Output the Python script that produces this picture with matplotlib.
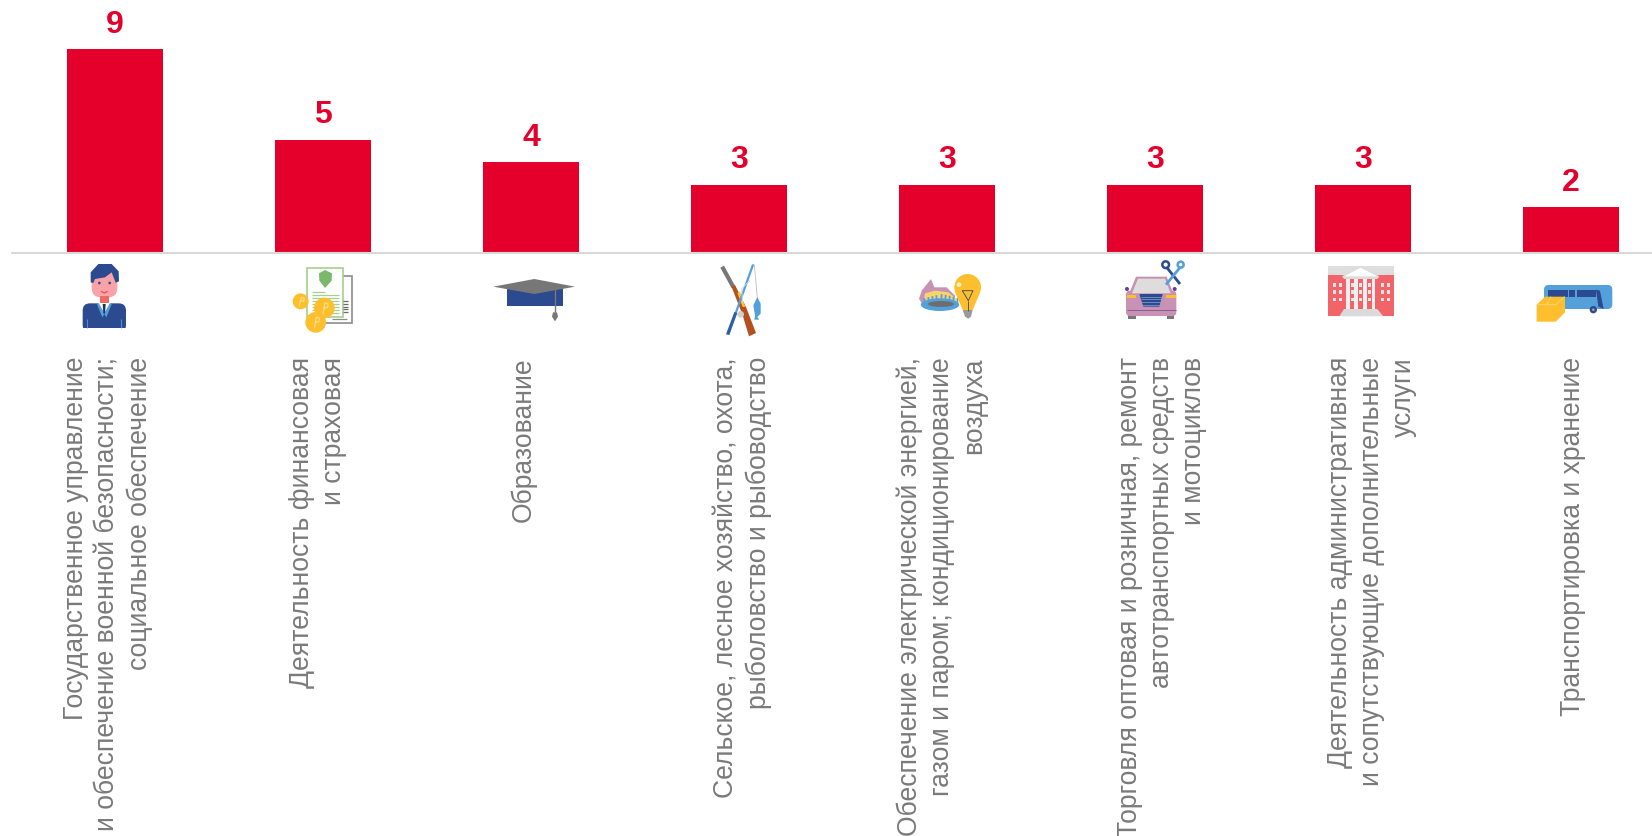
import matplotlib
matplotlib.use('Agg')
from matplotlib import pyplot as plt
from matplotlib.patches import Circle, Ellipse, Polygon, Rectangle, FancyBboxPatch

plt.rcParams['font.family'] = ['Liberation Sans', 'DejaVu Sans']

categories = [
    'Государственное управление\nи обеспечение военной безопасности;\nсоциальное обеспечение',
    'Деятельность финансовая\nи страховая',
    'Образование',
    'Сельское, лесное хозяйство, охота,\nрыболовство и рыбоводство',
    'Обеспечение электрической энергией,\nгазом и паром; кондиционирование\nвоздуха',
    'Торговля оптовая и розничная, ремонт\nавтотранспортных средств\nи мотоциклов',
    'Деятельность административная\nи сопутствующие дополнительные\nуслуги',
    'Транспортировка и хранение',
]
values = [9, 5, 4, 3, 3, 3, 3, 2]
# sideways shift of each label block against its bar, px
label_shift = [-7, -5, -7, 4, -5, 7, 9, 2]

RED = '#E4002B'
GREY = '#7A7A7A'
W, H = 1652, 837
BASE = 253.5

fig = plt.figure(figsize=(W / 100, H / 100), dpi=100)
ax = fig.add_axes([0, 1 - BASE / H, 1, BASE / H])
ax.set_xlim(-115 / 208, (W - 115) / 208)
ax.set_ylim(0, BASE / 22.6)
ax.axis('off')

xs = range(len(values))
ax.bar(xs, values, width=0.466, color=RED)

for i, v in zip(xs, values):
    ax.annotate(str(v), (i, v), xytext=(0, 17.5 * 0.72), textcoords='offset points',
                ha='center', va='baseline', color=RED, fontsize=23, fontweight='bold')

# overlay in pixels for axis line, labels and pictograms
ov = fig.add_axes([0, 0, 1, 1], facecolor='none')
ov.set_xlim(0, W)
ov.set_ylim(H, 0)
ov.axis('off')
ov.plot([11, W], [253.5, 253.5], color='#D9D9D9', lw=1.5, solid_capstyle='butt')

for i, (name, dx) in enumerate(zip(categories, label_shift)):
    ov.text(115 + 208 * i + dx, 357, name, rotation=90, ha='center', va='top',
            multialignment='right', fontsize=19.1, color=GREY, linespacing=1.29)


def poly(o, pts, c, z=3, **kw):
    ov.add_patch(Polygon([(o[0] + x / 3, o[1] + y / 3) for x, y in pts], closed=True,
                         fc=c, ec='none', zorder=z, **kw))


def rect(o, x0, y0, x1, y1, c, z=3, ec='none', lw=0):
    ov.add_patch(Rectangle((o[0] + x0 / 3, o[1] + y0 / 3), (x1 - x0) / 3, (y1 - y0) / 3,
                           fc=c, ec=ec, lw=lw, zorder=z))


def circ(o, x, y, r, c, z=3):
    ov.add_patch(Circle((o[0] + x / 3, o[1] + y / 3), r / 3, fc=c, ec='none', zorder=z))


def line(o, pts, c, lw=1.0, z=3):
    ov.plot([o[0] + p[0] / 3 for p in pts], [o[1] + p[1] / 3 for p in pts], color=c, lw=lw,
            zorder=z, solid_capstyle='butt')


def rbox(o, x0, y0, x1, y1, r, c, z=3):
    ov.add_patch(FancyBboxPatch((o[0] + (x0 + r) / 3, o[1] + (y0 + r) / 3),
                                (x1 - x0 - 2 * r) / 3, (y1 - y0 - 2 * r) / 3,
                                boxstyle='round,pad=%f' % (r / 3), fc=c, ec='none', zorder=z))


NAVY = '#2B4A8F'
SKY = '#54A0DA'
GOLD = '#FDBF2D'
PINK = '#C792B4'

# person
o = (70, 255)
rbox(o, 38, 148, 168, 235, 22, NAVY)
rect(o, 30, 221, 175, 240, 'white', 4)
rbox(o, 65, 40, 142, 130, 28, '#F9A3A8', 4)
rect(o, 90, 125, 118, 146, '#EE6A62', 4)
poly(o, [(62, 85), (62, 55), (85, 30), (125, 30), (146, 52), (147, 82), (137, 86), (125, 55),
         (105, 70), (75, 75), (70, 87)], NAVY, 5)
circ(o, 88, 87, 4, NAVY, 5)
circ(o, 119, 87, 4, NAVY, 5)
line(o, [(93, 112), (103, 117), (113, 112)], '#E4505A', 0.9, 5)
poly(o, [(84, 147), (122, 147), (103, 178)], 'white', 5)
poly(o, [(80, 148), (87, 148), (103, 180), (97, 190)], SKY, 5)
poly(o, [(126, 148), (119, 148), (103, 180), (109, 190)], SKY, 5)
poly(o, [(98, 150), (107, 150), (105, 178), (100, 178)], '#1D2F66', 6)
line(o, [(52, 195), (52, 221)], SKY, 0.6, 5)
line(o, [(153, 195), (153, 221)], SKY, 0.6, 5)

# policy and coins
o = (280, 255)
rect(o, 105, 65, 215, 208, 'white', 3, '#8C8C8C', 1.2)
rect(o, 81, 42, 190, 190, 'white', 4, '#A5CF8C', 1.2)
poly(o, [(117, 58), (135, 48), (156, 58), (155, 80), (135, 102), (118, 80)], '#7AB86B', 5)
for yy, xe in zip([113, 122, 131, 140, 149, 158, 167, 176], [135, 178, 178, 178, 178, 178, 178, 178]):
    line(o, [(95, yy), (xe, yy)], '#A5CF8C', 0.9, 5)
for yy in [142, 150, 158, 166, 174]:
    line(o, [(190, yy), (203, yy)], '#6A6A6A', 0.9, 4)
line(o, [(155, 195), (200, 195)], '#8C8C8C', 0.9, 4)
for cx, cy, r in [(62, 142, 24), (107, 205, 31), (133, 162, 31)]:
    circ(o, cx, cy, r, GOLD, 6)
    line(o, [(cx - 4, cy + r * 0.6), (cx + 2, cy - r * 0.5), (cx + 11, cy - r * 0.4),
             (cx + 10, cy - r * 0.05), (cx - 3, cy)], '#FFE08A', 0.8, 7)

# graduation cap
o = (485, 265)
rect(o, 65, 72, 233, 127, NAVY, 3)
poly(o, [(25, 68), (148, 45), (270, 68), (148, 90)], '#777777', 4)
line(o, [(210, 75), (210, 145)], '#777777', 1.0, 5)
poly(o, [(204, 145), (216, 145), (219, 158), (210, 172), (201, 158)], '#777777', 5)

# rifle and rod
o = (700, 258)
poly(o, [(61, 32), (72, 26), (106, 88), (95, 94)], '#777777', 3)
poly(o, [(95, 90), (105, 84), (138, 150), (168, 228), (147, 238), (128, 175)], '#B4501E', 3)
poly(o, [(112, 108), (120, 104), (136, 150), (128, 150)], GOLD, 3)
poly(o, [(156, 22), (163, 22), (110, 170), (103, 170)], SKY, 4)
poly(o, [(103, 165), (112, 168), (88, 234), (78, 232)], '#2B5FA8', 4)
line(o, [(163, 24), (172, 122)], '#C8C8C8', 0.7, 3)
poly(o, [(172, 120), (182, 140), (182, 170), (172, 180), (178, 188), (163, 188), (165, 176),
         (160, 145)], SKY, 4)
circ(o, 122, 172, 10, '#CFCFCF', 5)
line(o, [(150, 70), (125, 95), (128, 140)], '#C8DDF0', 0.6, 5)

# burner and bulb
o = (905, 265)
poly(o, [(42, 105), (50, 80), (78, 45), (88, 70), (125, 70), (150, 95), (150, 125), (60, 130)], PINK, 3)
poly(o, [(55, 120), (60, 88), (90, 80), (130, 85), (155, 105), (150, 125)], '#F8D46A', 4)
ov.add_patch(Ellipse((o[0] + 105 / 3, o[1] + 122 / 3), 115 / 3, 38 / 3, fc=SKY, ec='none', zorder=4))
for xx in range(60, 165, 12):
    line(o, [(xx, 128), (xx + 2 if xx > 105 else xx - 2, 90 + abs(xx - 110) * 0.25)], SKY, 1.3, 4)
ov.add_patch(Ellipse((o[0] + 108 / 3, o[1] + 120 / 3), 78 / 3, 18 / 3, fc='#6E6E6E', ec='none', zorder=5))
circ(o, 188, 70, 40, GOLD, 5)
poly(o, [(152, 88), (224, 88), (203, 138), (173, 138)], GOLD, 5)
line(o, [(172, 80), (204, 80), (190, 110), (172, 80)], '#555555', 0.7, 6)
line(o, [(190, 110), (190, 140)], '#555555', 0.7, 6)
poly(o, [(173, 138), (203, 138), (198, 158), (190, 164), (180, 158)], '#9A9A9A', 5)
circ(o, 162, 62, 7, '#FFF3C4', 6)

# car and spanners
o = (1110, 255)
rect(o, 55, 170, 78, 196, '#777777', 3)
rect(o, 170, 170, 192, 196, '#777777', 3)
rbox(o, 48, 110, 199, 186, 12, PINK, 4)
poly(o, [(58, 118), (78, 68), (170, 68), (190, 118)], PINK, 4)
poly(o, [(66, 118), (84, 74), (165, 74), (182, 118)], '#DEDCDC', 5)
circ(o, 51, 105, 6, '#6C3C90', 3)
circ(o, 194, 105, 6, '#6C3C90', 3)
rect(o, 50, 122, 78, 132, GOLD, 6)
rect(o, 168, 122, 197, 132, GOLD, 6)
poly(o, [(88, 120), (158, 120), (148, 158), (100, 158)], NAVY, 6)
for yy in [128, 136, 144, 152]:
    line(o, [(92, yy), (155, yy)], '#8EA3D2', 0.5, 7)
line(o, [(50, 168), (197, 168)], '#8D5A96', 0.7, 6)
line(o, [(170, 40), (210, 90)], NAVY, 2, 7)
line(o, [(212, 38), (168, 92)], SKY, 2, 7)
ov.add_patch(Circle((o[0] + 167 / 3, o[1] + 32 / 3), 10 / 3, fc='none', ec=NAVY, lw=1.8, zorder=7))
ov.add_patch(Circle((o[0] + 212 / 3, o[1] + 32 / 3), 9 / 3, fc='none', ec=SKY, lw=1.8, zorder=7))

# building
o = (1320, 260)
rect(o, 25, 35, 222, 172, '#F0646A', 3)
rect(o, 25, 22, 222, 48, '#DEDEDE', 4)
poly(o, [(72, 52), (122, 26), (172, 52)], 'white', 5)
poly(o, [(66, 52), (122, 22), (178, 52), (172, 60), (72, 60)], '#DCDCDC', 4)
for xx in [84, 108, 135, 160]:
    rect(o, xx - 5, 60, xx + 6, 150, '#EFEFEF', 5)
for xx in [42, 62, 96, 122, 148, 186, 204]:
    for yy in [77, 99, 121]:
        rect(o, xx - 4, yy - 5, xx + 5, yy + 6, '#FBE3E3', 4)
poly(o, [(72, 150), (172, 150), (190, 172), (58, 172)], '#DADADA', 5)

# bus and box
o = (1525, 275)
rbox(o, 57, 33, 262, 105, 14, SKY, 3)
rect(o, 70, 47, 128, 70, NAVY, 4)
rect(o, 132, 47, 150, 70, NAVY, 4)
rect(o, 155, 47, 212, 70, NAVY, 4)
poly(o, [(213, 47), (225, 50), (236, 105), (220, 98)], NAVY, 4)
circ(o, 205, 107, 11, NAVY, 5)
circ(o, 205, 107, 4, '#A0A0A0', 6)
poly(o, [(35, 92), (60, 68), (120, 68), (120, 115), (92, 143), (35, 143)], GOLD, 7)
line(o, [(35, 92), (92, 92), (120, 68)], '#FDD36C', 0.7, 8)
line(o, [(78, 68), (65, 92)], '#FDD36C', 0.7, 8)

fig.savefig('out.png', dpi=100, facecolor='white')
